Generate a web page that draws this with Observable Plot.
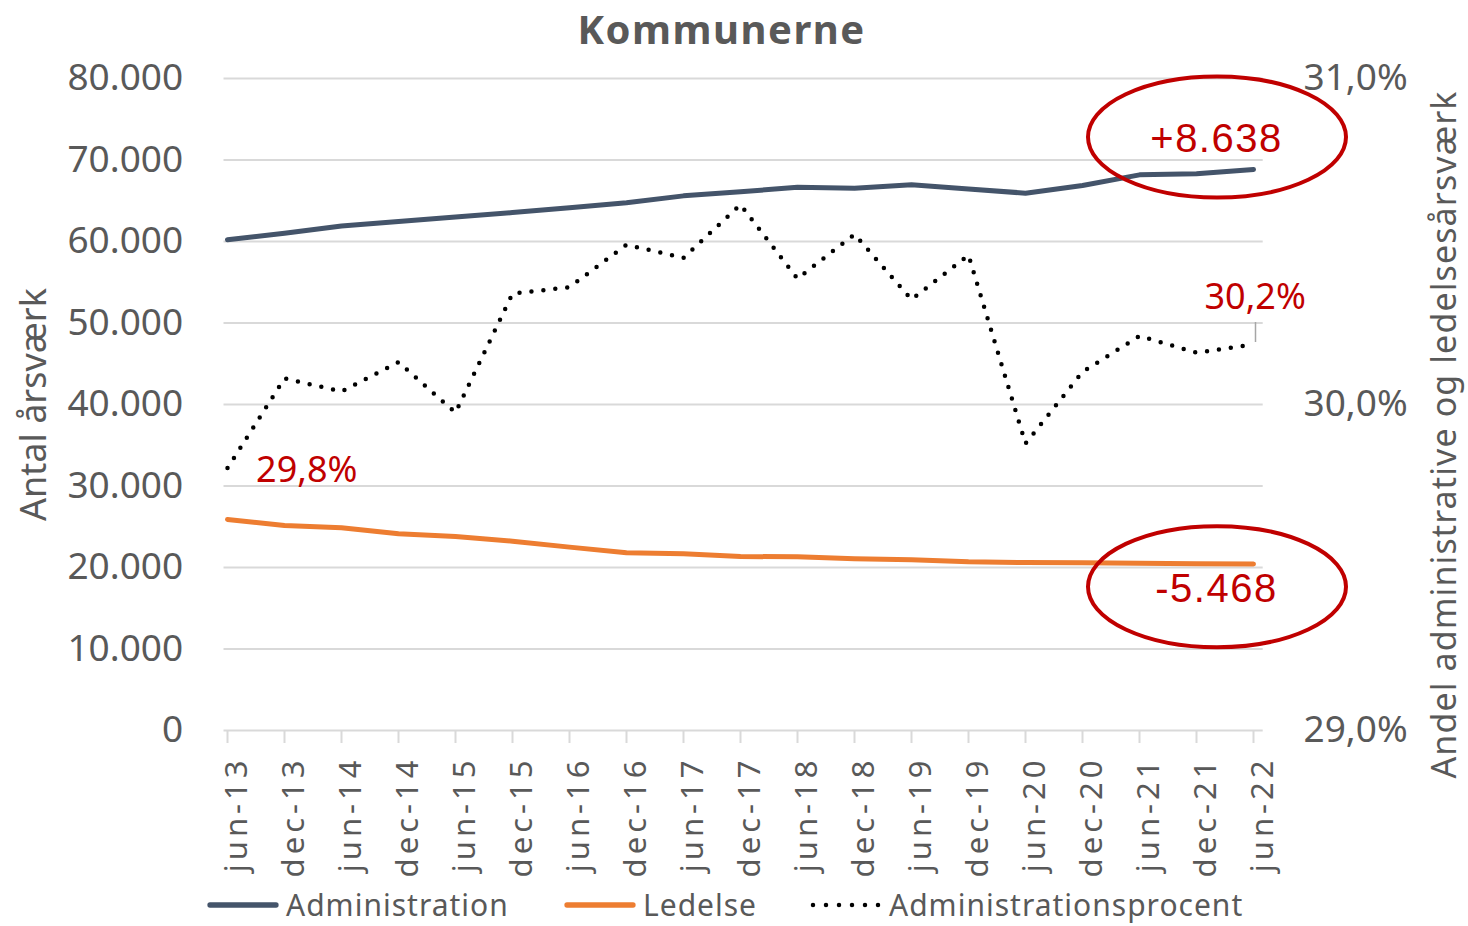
<!DOCTYPE html>
<html>
<head>
<meta charset="utf-8">
<script src="https://cdn.jsdelivr.net/npm/d3@7"></script>
<script src="https://cdn.jsdelivr.net/npm/@observablehq/plot@0.6"></script>
<style>
  body { margin: 0; background: #fff; }
  #wrap { position: relative; width: 1468px; height: 926px; overflow: hidden; background: #fff; }
  g[font-size="31"] text { letter-spacing: 4px; }
  g[font-weight="bold"] text { letter-spacing: 2px; }
  g[font-size="40"] text { letter-spacing: 1.5px; }
  g[font-size="34"] text { letter-spacing: 1.1px; }
  .leg { position: absolute; top: 890px; height: 30px; line-height: 30px; display: flex; align-items: center;
         font-family: "Noto Sans", sans-serif; font-size: 30px; color: #595959; letter-spacing: 1px; white-space: nowrap; }
  .leg svg { margin-right: 7px; }
</style>
</head>
<body>
<div id="wrap"></div>
<script>
// ---- data ----
const dates = ["jun-13","dec-13","jun-14","dec-14","jun-15","dec-15","jun-16","dec-16","jun-17","dec-17",
               "jun-18","dec-18","jun-19","dec-19","jun-20","dec-20","jun-21","dec-21","jun-22"];
const administration = [60208, 61000, 61900, 62450, 63000, 63550, 64150, 64750, 65600, 66100,
                        66660, 66540, 66950, 66440, 65930, 66870, 68180, 68300, 68846];
const ledelse = [25900, 25150, 24870, 24130, 23800, 23230, 22500, 21800, 21680, 21350,
                 21310, 21070, 20950, 20700, 20610, 20580, 20530, 20450, 20432];
const administrationsprocent = [29.805, 30.08, 30.04, 30.13, 29.975, 30.34, 30.36, 30.49, 30.45, 30.613,
                                30.386, 30.522, 30.322, 30.458, 29.88, 30.10, 30.21, 30.159, 30.184];
const leftTicks = [0, 10000, 20000, 30000, 40000, 50000, 60000, 70000, 80000];
const rightTicks = [29, 30, 31];
const seriesNames = ["Administration", "Ledelse", "Administrationsprocent"];
const seriesColors = ["#44546A", "#ED7D31", "#000000"];
const chartTitle = "Kommunerne";
const leftTitle = "Antal årsværk";
const rightTitle = "Andel administrative og ledelsesårsværk";
// annotations
const firstPctLabel = {date: "jun-13", pct: 29.805, text: "29,8%"};
const lastPctLabel = {date: "jun-22", pct: 30.184, text: "30,2%"};
const diffLabels = [
  {date: "dec-21", value: 72760, text: "+8.638"},
  {date: "dec-21", value: 17583, text: "-5.468"}
];

// ---- helpers ----
const RIGHT_MIN = 29, RIGHT_MAX = 31, LEFT_MAX = 80000;
const pctToLeft = p => (p - RIGHT_MIN) / (RIGHT_MAX - RIGHT_MIN) * LEFT_MAX;
const da = d3.formatLocale({decimal: ",", thousands: ".", grouping: [3], currency: ["", " kr."]});
const fmtInt = da.format(",.0f");
const fmtPct = da.format(".1f");

const adminRows = dates.map((d, i) => ({date: d, value: administration[i]}));
const ledRows = dates.map((d, i) => ({date: d, value: ledelse[i]}));
const pctRows = dates.map((d, i) => ({date: d, value: pctToLeft(administrationsprocent[i])}));

const red = "#C00000", gray = "#595959", grid = "#d9d9d9";

const chart = Plot.plot({
  width: 1468,
  height: 926,
  marginTop: 78,
  marginBottom: 196,
  marginLeft: 223.5,
  marginRight: 205.3,
  style: {fontFamily: "'Noto Sans', sans-serif", background: "#fff", color: gray, overflow: "visible"},
  x: {type: "point", domain: dates, range: [224, 1255], padding: 0},
  y: {domain: [0, LEFT_MAX]},
  marks: [
    Plot.ruleY(leftTicks, {stroke: grid, strokeWidth: 2}),
    Plot.axisX({tickSize: 13, stroke: grid, strokeWidth: 2, fill: "none", label: null}),
    Plot.text(dates, {x: d => d, text: d => d, frameAnchor: "bottom", rotate: -90, textAnchor: "end",
                      lineAnchor: "bottom", dx: 19, dy: 26, fontSize: 31, fill: gray}),
    Plot.axisY({anchor: "left", ticks: leftTicks, tickFormat: fmtInt, tickSize: 0, tickPadding: 40.8,
                fontSize: 37, fill: gray, label: null}),
    Plot.axisY({anchor: "right", ticks: rightTicks.map(pctToLeft),
                tickFormat: v => fmtPct(RIGHT_MIN + v / LEFT_MAX * (RIGHT_MAX - RIGHT_MIN)) + "%",
                tickSize: 0, tickPadding: 40.3, fontSize: 37, fill: gray, label: null}),
    // axis titles and chart title
    Plot.text([leftTitle], {text: d => d, frameAnchor: "left", rotate: -90, textAnchor: "middle", lineAnchor: "bottom",
                            dx: -178.5, fontSize: 36, fill: gray}),
    Plot.text([rightTitle], {text: d => d, frameAnchor: "right", rotate: -90, textAnchor: "middle", lineAnchor: "bottom",
                             dx: 193, dy: 30, fontSize: 34, fill: gray}),
    Plot.text([chartTitle], {text: d => d, frameAnchor: "top", textAnchor: "middle", lineAnchor: "bottom",
                             dx: -22, dy: -35, fontSize: 40, fontWeight: "bold", fill: gray}),
    // series
    Plot.line(adminRows, {x: "date", y: "value", stroke: seriesColors[0], strokeWidth: 5,
                          strokeLinecap: "round", strokeLinejoin: "round"}),
    Plot.line(ledRows, {x: "date", y: "value", stroke: seriesColors[1], strokeWidth: 5,
                        strokeLinecap: "round", strokeLinejoin: "round"}),
    Plot.line(pctRows, {x: "date", y: "value", stroke: seriesColors[2], strokeWidth: 4.5,
                        strokeDasharray: "0 12", strokeLinecap: "round", strokeLinejoin: "round"}),
    // leader line for last pct label
    Plot.ruleX([lastPctLabel], {x: "date", y1: d => pctToLeft(d.pct), y2: d => pctToLeft(d.pct),
                           insetTop: -22, insetBottom: 2, dx: 2, stroke: "#a6a6a6", strokeWidth: 1.5}),
    Plot.text([firstPctLabel], {x: "date", y: d => pctToLeft(d.pct), text: "text", textAnchor: "start", lineAnchor: "bottom",
                          dx: 28.6, dy: 14, fontSize: 36, fill: red}),
    Plot.text([lastPctLabel], {x: "date", y: d => pctToLeft(d.pct), text: "text", textAnchor: "start", lineAnchor: "bottom",
                          dx: -49, dy: -35.7, fontSize: 36, fill: red}),
    // ellipses + difference labels
    (index, scales) => {
      const g = d3.create("svg:g").attr("aria-label", "ellipses");
      diffLabels.forEach(e => {
        g.append("ellipse")
          .attr("cx", scales.x(e.date) + 21)
          .attr("cy", scales.y(e.value))
          .attr("rx", 129).attr("ry", 60.5)
          .attr("fill", "none").attr("stroke", red).attr("stroke-width", 4);
      });
      return g.node();
    },
    Plot.text(diffLabels, {x: "date", y: "value", text: "text", textAnchor: "middle", lineAnchor: "bottom",
                           dx: 20, dy: 14.5, fontSize: 40, fontFamily: "'Liberation Sans', Arial, sans-serif",
                           fill: red})
  ]
});

const wrap = document.getElementById("wrap");
wrap.appendChild(chart);

// legend
const legendLefts = [207, 564, 810];
seriesNames.forEach((name, i) => {
  const item = document.createElement("div");
  item.className = "leg";
  item.style.left = legendLefts[i] + "px";
  const sw = d3.create("svg").attr("width", 72).attr("height", 12);
  const ln = sw.append("line").attr("x1", 3).attr("x2", 69).attr("y1", 6).attr("y2", 6)
    .attr("stroke", seriesColors[i]).attr("stroke-linecap", "round");
  if (i === 2) ln.attr("stroke-width", 4.5).attr("stroke-dasharray", "0 13");
  else ln.attr("stroke-width", 5.3);
  item.appendChild(sw.node());
  item.appendChild(document.createTextNode(name));
  wrap.appendChild(item);
});
</script>
</body>
</html>
